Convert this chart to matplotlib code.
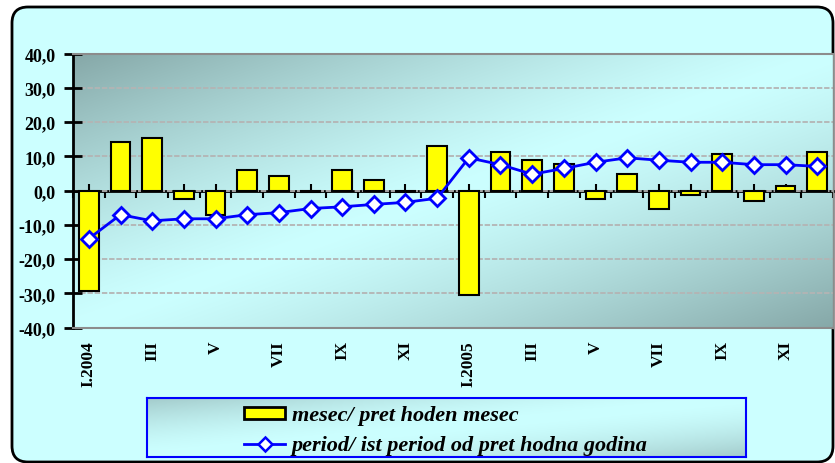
import numpy as np
import matplotlib
matplotlib.use("Agg")
import matplotlib.pyplot as plt
from matplotlib.patches import FancyBboxPatch, Patch
from matplotlib.lines import Line2D
from matplotlib.transforms import IdentityTransform
from matplotlib.ticker import FuncFormatter, FixedLocator

months = ["I.2004", "II", "III", "IV", "V", "VI", "VII", "VIII", "IX", "X", "XI", "XII",
          "I.2005", "II", "III", "IV", "V", "VI", "VII", "VIII", "IX", "X", "XI", "XII"]
monthly = [-29.3, 14.1, 15.3, -2.4, -7.0, 6.0, 4.3, -0.5, 6.0, 3.0, -0.5, 13.0,
           -30.4, 11.2, 8.9, 7.7, -2.4, 4.8, -5.4, -1.3, 10.6, -3.0, 1.3, 11.2]
cumulative = [-14.0, -7.0, -8.8, -8.2, -8.2, -7.0, -6.4, -5.2, -4.7, -4.0, -3.4, -2.2,
              9.6, 7.6, 4.8, 6.5, 8.3, 9.6, 8.9, 8.3, 8.3, 7.6, 7.6, 7.1]
label_monthly = "mesec/ pret hoden mesec"
label_cumulative = "period/ ist period od pret hodna godina"
yticks = [-40, -30, -20, -10, 0, 10, 20, 30, 40]

W, H = 835, 464
fig = plt.figure(figsize=(W / 100, H / 100), dpi=100)
fig.patch.set_facecolor("white")

# outer rounded frame
frame = FancyBboxPatch((12, 1), 821, 455, boxstyle="round,pad=0,rounding_size=16",
                       transform=IdentityTransform(), facecolor="#CCFFFF",
                       edgecolor="black", linewidth=2, zorder=-10)
fig.patches.append(frame)

light = np.array([0xCC, 0xFF, 0xFF]) / 255


def gradient(nx, ny, dark, p=1.3):
    dark = np.array(dark) / 255
    u = np.linspace(0, 1, nx)
    v = np.linspace(0, 1, ny)
    U, V = np.meshgrid(u, v)
    d = (U + V) / 2
    t = np.abs(2 * d - 1) ** p
    return light[None, None, :] * (1 - t[..., None]) + dark[None, None, :] * t[..., None]


left, right, top, bottom = 73, 833, 54.7, 328.7
ax = fig.add_axes([left / W, 1 - bottom / H, (right - left) / W, (bottom - top) / H])
x = np.arange(len(months))
ax.imshow(gradient(300, 120, (0x86, 0xA8, 0xA8)), extent=[-0.5, len(months) - 0.5, -40, 40],
          aspect="auto", zorder=0, origin="upper", interpolation="bilinear")
ax.set_xlim(-0.5, len(months) - 0.5)
ax.set_ylim(-40, 40)

for yv in yticks[1:-1]:
    ax.axhline(yv, color="#B4B4B4", linewidth=1.3, linestyle=(0, (3, 1)), zorder=1)

ax.bar(x, monthly, width=0.63, color="#FFFF00", edgecolor="black", linewidth=1.5, zorder=2)
ax.plot(x, cumulative, color="#0000FF", linewidth=2, marker="D", markersize=8,
        markerfacecolor="white", markeredgecolor="#0000FF", markeredgewidth=2, zorder=4)

for s in ["top", "bottom"]:
    ax.spines[s].set_color("#8C8C8C")
    ax.spines[s].set_linestyle((0, (1, 1)))
    ax.spines[s].set_linewidth(1.5)
ax.spines["right"].set_color("#8C8C8C")
ax.spines["right"].set_linewidth(1)
ax.spines["left"].set_color("black")
ax.spines["left"].set_linewidth(2)

ax.set_yticks(yticks)
ax.yaxis.set_major_formatter(FuncFormatter(lambda v, p: f"{v:.1f}".replace(".", ",")))
ax.tick_params(axis="y", direction="inout", length=13, width=2, pad=6)
for lab in ax.get_yticklabels():
    lab.set_fontfamily("Liberation Serif")
    lab.set_fontweight("bold")
    lab.set_fontsize(13)

ax.set_xticks(x[::2])
ax.set_xticklabels(months[::2], rotation=90, fontfamily="Liberation Serif",
                   fontweight="bold", fontsize=12.5, va="top")
ax.tick_params(axis="x", length=0, pad=9)

# zero axis with tick marks
sec = ax.secondary_xaxis(0.5)
for sp in sec.spines.values():
    sp.set_linewidth(2)
    sp.set_color("black")
sec.xaxis.set_major_locator(FixedLocator(list(x)))
sec.xaxis.set_minor_locator(FixedLocator(list(np.arange(len(months) + 1) - 0.5)))
sec.tick_params(which="major", direction="out", length=5, width=1.5, labelbottom=False, labeltop=False)
sec.tick_params(which="minor", direction="in", length=5, width=1.5)
sec.set_xticklabels([])

# legend box with gradient
lx0, lx1, ly0, ly1 = 147, 746, 399, 458
lax = fig.add_axes([lx0 / W, 1 - ly1 / H, (lx1 - lx0) / W, (ly1 - ly0) / H])
lax.imshow(gradient(200, 40, (0xA4, 0xCC, 0xCC), p=1.6), extent=[0, 1, 0, 1],
           aspect="auto", origin="upper", interpolation="bilinear")
lax.set_xlim(0, 1)
lax.set_ylim(0, 1)
lax.set_xticks([])
lax.set_yticks([])
for sp in lax.spines.values():
    sp.set_color("#0000FF")
    sp.set_linewidth(1.5)

handles = [Patch(facecolor="#FFFF00", edgecolor="black", linewidth=2),
           Line2D([], [], color="#0000FF", linewidth=2, marker="D", markersize=7,
                  markerfacecolor="white", markeredgecolor="#0000FF", markeredgewidth=1.8)]
leg = lax.legend(handles, [label_monthly, label_cumulative], loc="center left",
                 bbox_to_anchor=((244 - lx0) / (lx1 - lx0), 0.45), frameon=False,
                 borderpad=0, borderaxespad=0, handlelength=1.85, handleheight=0.45,
                 handletextpad=0.3, labelspacing=0.45,
                 prop={"family": "Liberation Serif", "weight": "bold", "style": "italic", "size": 16})

fig.savefig("out.png", dpi=100, facecolor=fig.get_facecolor())
